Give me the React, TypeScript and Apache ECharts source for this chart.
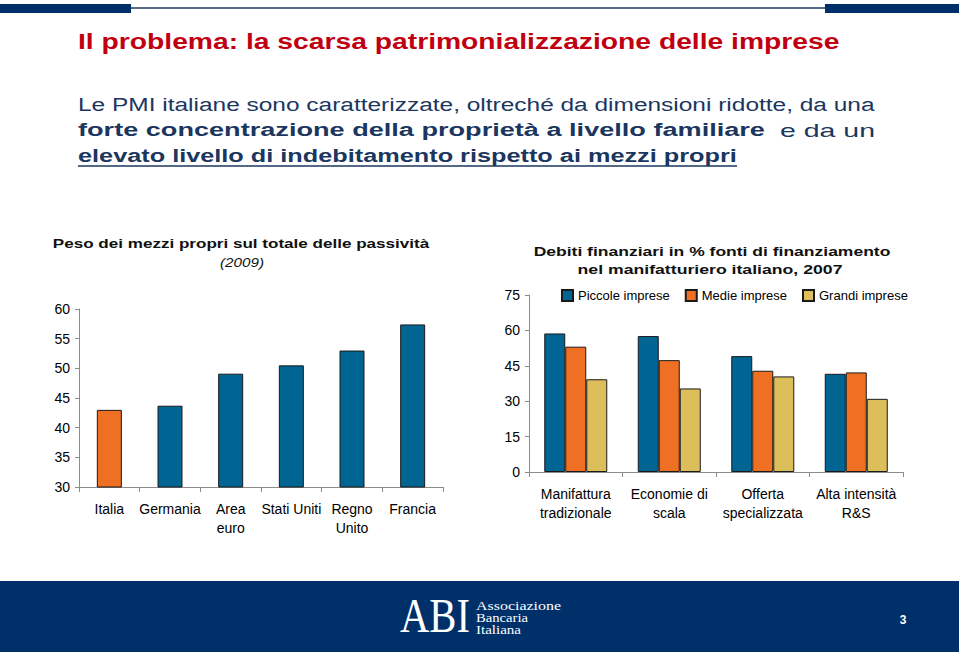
import React, { useEffect, useRef } from "react";
import * as echarts from "echarts";

const leftCategories = ["Italia", "Germania", "Area\neuro", "Stati Uniti", "Regno\nUnito", "Francia"];
const leftValues = [43.0, 43.7, 49.1, 50.5, 53.0, 57.4];
const leftHighlightIndex = 0;

const rightCategories = ["Manifattura\ntradizionale", "Economie di\nscala", "Offerta\nspecializzata", "Alta intensità\nR&S"];
const seriesNames = ["Piccole imprese", "Medie imprese", "Grandi imprese"];
const piccole = [58.7, 57.6, 49.1, 41.6];
const medie = [53.1, 47.4, 42.9, 42.2];
const grandi = [39.3, 35.4, 40.5, 31.0];

const leftAxis = { min: 30, max: 60, interval: 5 };
const rightAxis = { min: 0, max: 75, interval: 15 };

const BLUE = "#006592";
const ORANGE = "#F07023";
const YELLOW = "#DCBE5A";
const NAVY = "#00306A";
const TEXT_NAVY = "#1B365F";
const RED = "#C00010";
const FONT = '"Liberation Sans", Arial, sans-serif';
const SERIF = '"Liberation Serif", "DejaVu Serif", serif';

let measureCtx: CanvasRenderingContext2D | null = null;
function measure(text: string, font: string): number {
  if (!measureCtx) measureCtx = document.createElement("canvas").getContext("2d");
  measureCtx!.font = font;
  return measureCtx!.measureText(text).width;
}

function fitText(
  text: string,
  x: number,
  y: number,
  targetWidth: number,
  size: number,
  weight: string,
  style: string,
  fill: string,
  align: "left" | "center" | "right" = "left",
  family: string = FONT
) {
  const font = `${style} ${weight} ${size}px ${family}`;
  const w = measure(text, font);
  const s = w > 0 ? targetWidth / w : 1;
  return {
    type: "text",
    x,
    y,
    scaleX: s,
    silent: true,
    style: {
      text,
      fill,
      fontSize: size,
      fontWeight: weight,
      fontStyle: style,
      fontFamily: family,
      textAlign: align,
      textVerticalAlign: "middle",
    },
  };
}

export default function App() {
  const ref = useRef<HTMLDivElement>(null);

  useEffect(() => {
    document.body.style.margin = "0";
    if (!ref.current) return;
    const chart = echarts.init(ref.current, null, { renderer: "svg" });

    const axisLineStyle = { lineStyle: { color: "#8c8c8c", width: 1 } };
    const barBorder = { borderColor: "#1a1a1a", borderWidth: 1 };

    const graphic: any[] = [
      // top decoration
      { type: "rect", shape: { x: 0, y: 4, width: 131, height: 9 }, style: { fill: NAVY } },
      { type: "line", shape: { x1: 131, y1: 8, x2: 826, y2: 8 }, style: { stroke: "#1d3b62", lineWidth: 1.5 } },
      { type: "rect", shape: { x: 825, y: 4, width: 134, height: 9 }, style: { fill: NAVY } },
      // title
      fitText("Il problema: la scarsa patrimonializzazione delle imprese", 78, 41, 762, 22, "bold", "normal", RED),
      // paragraph
      fitText("Le PMI italiane sono caratterizzate, oltreché da dimensioni ridotte, da una", 78, 104, 797, 19, "normal", "normal", TEXT_NAVY),
      fitText("forte concentrazione della proprietà a livello familiare", 78, 130, 687, 19, "bold", "normal", TEXT_NAVY),
      fitText("e da un", 875, 130, 95, 19, "normal", "normal", TEXT_NAVY, "right"),
      fitText("elevato livello di indebitamento rispetto ai mezzi propri", 78, 156, 659, 19, "bold", "normal", TEXT_NAVY),
      { type: "line", shape: { x1: 78, y1: 166, x2: 737, y2: 166 }, style: { stroke: TEXT_NAVY, lineWidth: 1.3 } },
      // left chart title
      fitText("Peso dei mezzi propri sul totale delle passività", 241, 243, 377, 13, "bold", "normal", "#111", "center"),
      fitText("(2009)", 242, 262, 44, 13, "normal", "italic", "#111", "center"),
      // right chart title
      fitText("Debiti finanziari in % fonti di finanziamento", 712, 251, 357, 13, "bold", "normal", "#111", "center"),
      fitText("nel manifatturiero italiano, 2007", 710, 269, 265, 13, "bold", "normal", "#111", "center"),
      // footer
      { type: "rect", shape: { x: 0, y: 581, width: 959, height: 71 }, style: { fill: NAVY } },
      fitText("ABI", 400, 616, 70, 48, "normal", "normal", "#ffffff", "left", SERIF),
      fitText("Associazione", 476, 606, 85, 12, "normal", "normal", "#ffffff", "left", SERIF),
      fitText("Bancaria", 476, 618, 52, 12, "normal", "normal", "#ffffff", "left", SERIF),
      fitText("Italiana", 476, 630, 45, 12, "normal", "normal", "#ffffff", "left", SERIF),
      {
        type: "text",
        x: 903,
        y: 620,
        silent: true,
        style: { text: "3", fill: "#ffffff", fontSize: 12, fontWeight: "bold", fontFamily: FONT, textAlign: "center", textVerticalAlign: "middle" },
      },
    ];

    chart.setOption({
      animation: false,
      backgroundColor: "#ffffff",
      textStyle: { fontFamily: FONT },
      grid: [
        { left: 79, top: 309, width: 364, height: 178 },
        { left: 529, top: 295, width: 374, height: 177 },
      ],
      legend: {
        data: seriesNames,
        left: 556,
        top: 284,
        itemWidth: 11,
        itemHeight: 11,
        itemGap: 15,
        icon: "rect",
        textStyle: { fontSize: 13, color: "#000", fontFamily: FONT },
      },
      xAxis: [
        {
          type: "category",
          gridIndex: 0,
          data: leftCategories,
          axisLine: axisLineStyle,
          axisTick: { show: true, length: 5, lineStyle: { color: "#8c8c8c" } },
          axisLabel: { color: "#000", fontSize: 14, margin: 12, lineHeight: 19, interval: 0 },
        },
        {
          type: "category",
          gridIndex: 1,
          data: rightCategories,
          axisLine: axisLineStyle,
          axisTick: { show: true, length: 5, lineStyle: { color: "#8c8c8c" } },
          axisLabel: { color: "#000", fontSize: 14, margin: 12, lineHeight: 19, interval: 0 },
        },
      ],
      yAxis: [
        {
          type: "value",
          gridIndex: 0,
          min: leftAxis.min,
          max: leftAxis.max,
          interval: leftAxis.interval,
          axisLine: { show: true, ...axisLineStyle },
          axisTick: { show: true, length: 4, lineStyle: { color: "#8c8c8c" } },
          splitLine: { show: false },
          axisLabel: { color: "#000", fontSize: 14, margin: 9 },
        },
        {
          type: "value",
          gridIndex: 1,
          min: rightAxis.min,
          max: rightAxis.max,
          interval: rightAxis.interval,
          axisLine: { show: true, ...axisLineStyle },
          axisTick: { show: true, length: 4, lineStyle: { color: "#8c8c8c" } },
          splitLine: { show: false },
          axisLabel: { color: "#000", fontSize: 14, margin: 9 },
        },
      ],
      series: [
        {
          type: "bar",
          name: "Peso dei mezzi propri",
          xAxisIndex: 0,
          yAxisIndex: 0,
          barWidth: 25,
          itemStyle: { color: BLUE, ...barBorder },
          data: leftValues.map((v, i) =>
            i === leftHighlightIndex ? { value: v, itemStyle: { color: ORANGE, ...barBorder } } : v
          ),
        },
        {
          type: "bar",
          name: seriesNames[0],
          xAxisIndex: 1,
          yAxisIndex: 1,
          barWidth: 21,
          barGap: "0%",
          itemStyle: { color: BLUE, ...barBorder },
          data: piccole,
        },
        {
          type: "bar",
          name: seriesNames[1],
          xAxisIndex: 1,
          yAxisIndex: 1,
          barWidth: 21,
          barGap: "0%",
          itemStyle: { color: ORANGE, ...barBorder },
          data: medie,
        },
        {
          type: "bar",
          name: seriesNames[2],
          xAxisIndex: 1,
          yAxisIndex: 1,
          barWidth: 21,
          barGap: "0%",
          itemStyle: { color: YELLOW, ...barBorder },
          data: grandi,
        },
      ],
      graphic,
    });

    return () => chart.dispose();
  }, []);

  return <div ref={ref} style={{ width: 959, height: 655 }} />;
}
